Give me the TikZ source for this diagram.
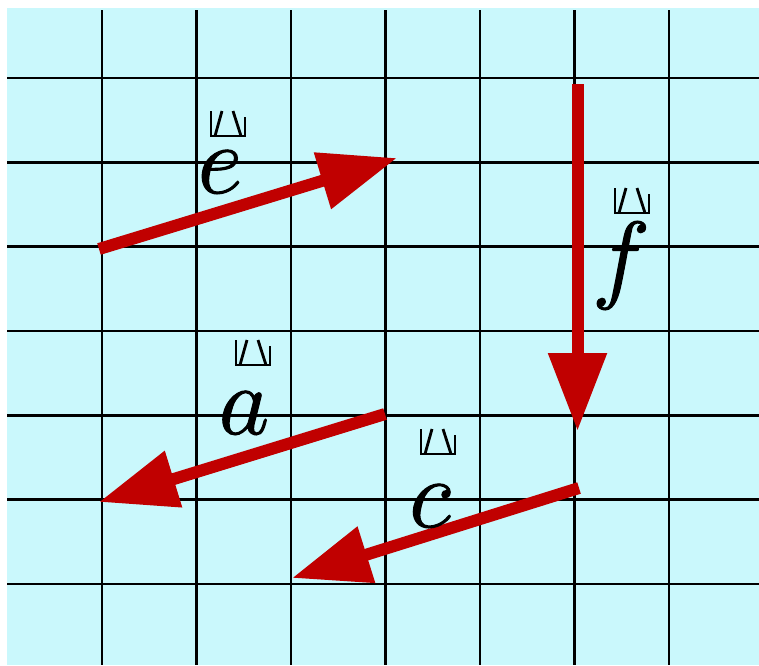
\documentclass[tikz,border=0pt]{standalone}
\usepackage{fix-cm}
\usetikzlibrary{arrows.meta}
\definecolor{bgcyan}{HTML}{CAF8FC}
\definecolor{vecred}{HTML}{C00000}
\newcommand{\vecmark}[2]{%
  \draw[boxmark] (#1,#2) -- ++(0,25) -- ++(34,0) -- ++(0,-19);
  \draw[boxmark] (#1+4,#2+25) -- (#1+11,#2);
  \draw[boxmark] (#1+22,#2) -- (#1+30,#2+25);
}
\newcommand{\heavy}[1]{\special{pdf:literal direct 2 Tr 1.1 w}#1\special{pdf:literal direct 0 Tr}}
\begin{document}
\begin{tikzpicture}[x=1pt,y=-1pt,
  gridline/.style={black,line width=2.6pt},
  vecarrow/.style={vecred,line width=12pt,-{Triangle[length=78pt,width=56pt]}},
  letter/.style={inner sep=0pt,anchor=base,font=\fontsize{98}{98}\selectfont},
  boxmark/.style={black,line width=2.8pt}]
\useasboundingbox (0,0) rectangle (759,665);
\fill[bgcyan] (7,8) rectangle (759,665);
% grid
\foreach \gx in {102,196.5,291,385.5,480,574.5,669}
  \draw[gridline] (\gx,10) -- (\gx,665);
\foreach \gy in {78,162.3,246.7,331,415.3,499.7,584}
  \draw[gridline] (7,\gy) -- (759,\gy);
% vector endpoints
\coordinate (eS) at (99,249);
\coordinate (eE) at (397,158);
\coordinate (fS) at (577.5,84);
\coordinate (fE) at (577.5,431);
\coordinate (aS) at (385,414);
\coordinate (aE) at (99,502);
\coordinate (cS) at (579,488);
\coordinate (cE) at (292,578);
\draw[vecarrow] (eS) -- (eE);
\draw[vecarrow] (fS) -- (fE);
\draw[vecarrow] (aS) -- (aE);
\draw[vecarrow] (cS) -- (cE);
% labels
\node[letter] (le) at (220,193) {\heavy{$e$}};
\node[letter] (lf) at (621,290) {\heavy{$f$}};
\node[letter] (la) at (244,434) {\heavy{$a$}};
\node[letter] (lc) at (430,527) {\heavy{$c$}};
\vecmark{211}{111}
\vecmark{615}{188}
\vecmark{236}{340}
\vecmark{421}{429}
\end{tikzpicture}
\end{document}
